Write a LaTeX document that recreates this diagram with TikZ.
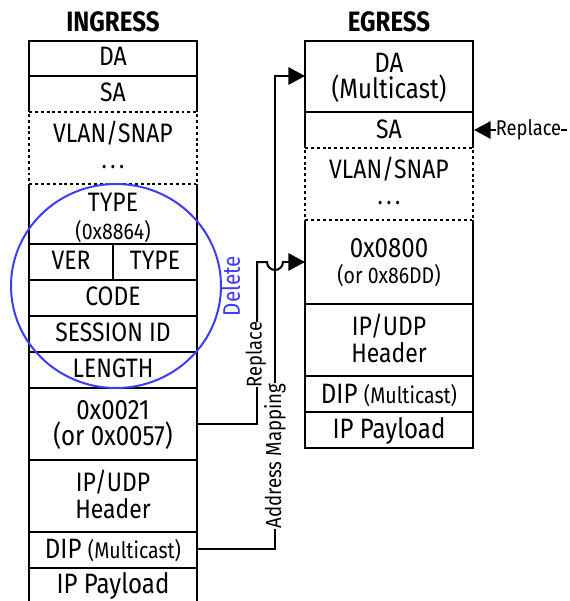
\documentclass[tikz,border=0pt]{standalone}
\usepackage{fontspec}
\setmainfont[FakeStretch=0.86]{Fira Sans}
\usetikzlibrary{arrows.meta,shapes.geometric}
\tikzset{
  x=0.75pt,y=-0.75pt,
  rowtext/.style={align=center,inner sep=0pt,font=\fontsize{20}{20}\selectfont},
  baseline text/.style={inner sep=0pt,anchor=base,yshift=-1pt,font=\fontsize{20}{20}\selectfont},
  widetext/.style={inner sep=0pt,anchor=base,yshift=-1pt,font=\fontsize{21}{20}\selectfont},
  solidedge/.style={draw=black,line width=1.5pt},
  dashedge/.style={draw=black,line width=1.5pt,dash pattern=on 2.2pt off 2.2pt},
  conn/.style={draw=black,line width=1.5pt},
  tip/.style={-{Triangle[length=12.5pt,width=13pt]}},
  lab/.style={inner sep=0pt,font=\fontsize{16}{18}\selectfont},
  heading/.style={inner sep=0pt,anchor=base,yshift=-0.8pt,font=\fontsize{21}{22}\selectfont\bfseries},
  small/.style={inner sep=0pt,anchor=base,yshift=-0.8pt,font=\fontsize{17}{18}\selectfont},
  dotstext/.style={inner sep=0pt,anchor=center,text height=3pt,text depth=0pt,font=\fontsize{19}{20}\selectfont},
}
\newcommand{\smalltxt}[1]{{\fontsize{17}{18}\selectfont #1}}
\newcommand{\spdots}{.\hspace{2.6pt}.\hspace{2.6pt}.}
\begin{document}
\begin{tikzpicture}
\useasboundingbox (0,0) rectangle (570,601);
\node[heading] (ingh) at (113,30) {INGRESS};
\node[heading] (egrh) at (389,30) {EGRESS};
% ingress borders
\draw[solidedge] (29,112) -- (29,41) -- (197,41) -- (197,112);
\draw[solidedge] (29,76) -- (197,76);
\draw[dashedge] (29,112) -- (197,112) -- (197,184) -- (29,184) -- cycle;
\draw[solidedge] (29,184) -- (29,601);
\draw[solidedge] (197,184) -- (197,601);
\foreach \y in {244,280,316,352,388,460,532,568} \draw[solidedge] (29,\y) -- (197,\y);
\draw[solidedge] (113,244) -- (113,280);
% egress borders
\draw[solidedge] (305,148) -- (305,41) -- (473,41) -- (473,148);
\draw[solidedge] (305,112) -- (473,112);
\draw[dashedge] (305,148) -- (473,148) -- (473,220) -- (305,220) -- cycle;
\draw[solidedge] (305,220) -- (305,448) -- (473,448) -- (473,220);
\foreach \y in {304,376,412} \draw[solidedge] (305,\y) -- (473,\y);
% ingress text
\node[baseline text] (ida) at (113,64) {DA};
\node[baseline text] (isa) at (113,100) {SA};
\node[baseline text] (ivl) at (113,141) {VLAN/SNAP};
\node[dotstext] (idt) at (113,166) {\spdots};
\node[baseline text] (ity) at (113,210) {TYPE};
\node[small] (ityb) at (113,238) {(0x8864)};
\node[baseline text] (ive) at (71,268) {VER};
\node[baseline text] (ity2) at (155,268) {TYPE};
\node[baseline text] (ico) at (113,304) {CODE};
\node[baseline text] (ise) at (113,340) {SESSION ID};
\node[baseline text] (ile) at (113,376) {LENGTH};
\node[rowtext,font=\fontsize{21}{20}\selectfont] (ippp) at (113,425) {0x0021\\(or 0x0057)};
\node[rowtext] (iip) at (113,494.5) {IP/UDP\\Header};
\node[widetext] (idip) at (113,557) {DIP \smalltxt{(Multicast)}};
\node[widetext] (ipl) at (113,592) {IP Payload};
% egress text
\node[rowtext,font=\fontsize{21}{20}\selectfont] (eda) at (389,78) {DA\\(Multicast)};
\node[baseline text] (esa) at (389,137) {SA};
\node[baseline text] (evl) at (389,177) {VLAN/SNAP};
\node[dotstext] (edt) at (389,202) {\spdots};
\node[widetext] (e08) at (389,256) {0x0800};
\node[small] (e08b) at (389,282) {(or 0x86DD)};
\node[rowtext] (eip) at (389,338.5) {IP/UDP\\Header};
\node[widetext] (edip) at (389,402) {DIP \smalltxt{(Multicast)}};
\node[widetext] (epl) at (389,437) {IP Payload};
% ellipse
\node[draw={rgb,255:red,60;green,60;blue,240},line width=1.5pt,ellipse,minimum width=157.5pt,minimum height=153pt,inner sep=0pt] (delc) at (116,286) {};
\node[lab,rotate=90,text={rgb,255:red,60;green,60;blue,240},font=\fontsize{18}{20}\selectfont] (del) at (231,286) {Delete};
% connector anchors
\coordinate (rs) at (197,424);
\coordinate (rb) at (257,424);
\coordinate (rt) at (257,262);
\coordinate (re) at (305,262);
\coordinate (as) at (197,549);
\coordinate (ab) at (275,549);
\coordinate (at1) at (275,76);
\coordinate (ae) at (305,76);
\coordinate (sa1) at (474,130);
\coordinate (sa2) at (567,130);
\node[lab,rotate=90] (repl) at (256,354.5) {Replace};
\node[lab,rotate=90,font=\fontsize{16.3}{18}\selectfont] (addr) at (275,456) {Address Mapping};
\node[lab] (repr) at (528.5,130) {Replace};
% connectors
\draw[conn] (rs) -- (rb) -- (257,387);
\draw[conn] (257,322) -- (rt) -- (267,262) arc[start angle=180,end angle=0,radius=8] -- (284,262);
\draw[conn,tip] (284,262) -- (re);
\draw[conn] (as) -- (ab) -- (addr.west);
\draw[conn,tip] (addr.east) -- (at1) -- (ae);
\draw[conn,tip] (repr.west) -- (sa1);
\draw[conn] (repr.east) -- (sa2);
\end{tikzpicture}
\end{document}
